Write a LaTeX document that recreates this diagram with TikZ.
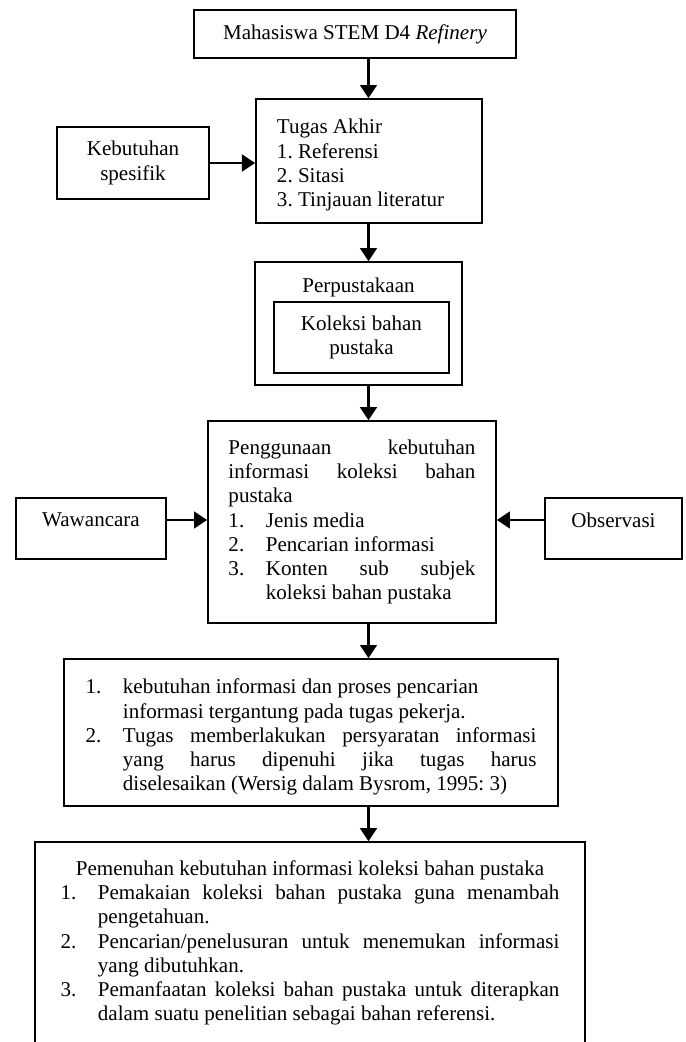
\documentclass[tikz,border=0pt]{standalone}
\usepackage{fontspec}
\setmainfont{Liberation Serif}
\usetikzlibrary{arrows.meta}
\hyphenpenalty=10000
\exhyphenpenalty=10000
\tolerance=10000
\frenchspacing
\newcommand{\butir}[2]{\par\hangindent=21.3pt\hangafter=1\noindent\makebox[21.3pt][l]{#1}#2\par}
\tikzset{
  teks/.style={font=\fontsize{12}{13.8}\selectfont},
  kotak/.style={draw, line width=0.9pt, inner sep=0pt, teks},
  panah/.style={line width=1.5pt, -{Triangle[length=7.5pt,width=9.5pt]}},
}

\begin{document}
\begin{tikzpicture}[x=0.57pt, y=-0.57pt]
			      \useasboundingbox (0,0) rectangle (685,1042);
			      \coordinate (spine) at (368.5,0);
			      % Top part: student, final project, needs
			      \node[kotak, minimum width=183.5pt, minimum height=27.4pt] (mhs) at (355,34) {Mahasiswa STEM D4 \textit{Refinery}};
			      \node[kotak, minimum width=128.8pt, minimum height=70.7pt, text width=104.9pt, inner xsep=12pt, align=flush left] (tugas) at (369,161) {\raisebox{0pt}[13pt]{Tugas Akhir}\\1. Referensi\\2. Sitasi\\3. Tinjauan literatur};
			      \node[kotak, minimum width=86.6pt, minimum height=41pt, align=center] (kebut) at (133,163) {Kebutuhan\\spesifik};

			      % Library with its collection inside
			      \node[kotak, minimum width=118pt, minimum height=70.1pt] (perp) at (358.5,323.5) {};
			      \node[teks] (perpjudul) at (358.5,287) {Perpustakaan};
			      \node[kotak, minimum width=99.75pt, minimum height=40.5pt, align=center] (kol) at (361.5,337.5) {Koleksi bahan\\pustaka};

			      % Use of the collection, with interview and observation
			      \node[kotak, minimum width=164.2pt, minimum height=115.1pt, text width=140.8pt, inner xsep=11.7pt, align=justify] (guna) at (352,522) {\noindent Penggunaan~kebutuhan\linebreak informasi~koleksi~bahan\linebreak pustaka\par
			        \butir{1.}{Jenis media}\butir{2.}{Pencarian informasi}\butir{3.}{Konten~sub~subjek\linebreak koleksi bahan pustaka}};
			      \node[kotak, minimum width=85.5pt, minimum height=34.8pt] (waw) at (91,528.5) {\raisebox{9.7pt}{Wawancara}};
			      \node[kotak, minimum width=78.1pt, minimum height=34.8pt] (obs) at (613.5,528.5) {\raisebox{9.7pt}{Observasi}};

			      % Bottom part
			      \node[kotak, minimum width=281.6pt, minimum height=83.8pt, text width=257pt, inner xsep=12.3pt, align=justify] (syarat) at (311,732.5) {%
			        \butir{1.}{kebutuhan informasi dan proses pencarian\newline informasi tergantung pada tugas pekerja.}%
			        \butir{2.}{Tugas~memberlakukan~persyaratan~informasi\linebreak yang~harus~dipenuhi~jika~tugas~harus\linebreak diselesaikan~(Wersig~dalam~Bysrom,~1995:~3)}};
			      \node[kotak, minimum width=313.5pt, minimum height=115.1pt, text width=284.4pt, inner xsep=12.5pt, align=justify] (penuhi) at (310,943) {%
			        \centerline{Pemenuhan kebutuhan informasi koleksi bahan pustaka}%
			        \butir{1.}{Pemakaian~koleksi~bahan~pustaka~guna~menambah\linebreak pengetahuan.}%
			        \butir{2.}{Pencarian/penelusuran~untuk~menemukan~informasi\linebreak yang dibutuhkan.}%
			        \butir{3.}{Pemanfaatan~koleksi~bahan~pustaka~untuk~diterapkan\linebreak dalam suatu penelitian sebagai bahan referensi.}};

			      \draw[panah] (mhs.south -| spine) -- (tugas.north -| spine);
			      \draw[panah] (kebut.east) -- (kebut.east -| tugas.west);
			      \draw[panah] (tugas.south -| spine) -- (perp.north -| spine);
			      \draw[panah] (perp.south -| spine) -- (guna.north -| spine);
			      \draw[panah] ([yshift=4.85pt]waw.east) -- ([yshift=4.85pt]waw.east -| guna.west);
			      \draw[panah] ([yshift=4.85pt]obs.west) -- ([yshift=4.85pt]obs.west -| guna.east);
			      \draw[panah] (guna.south -| spine) -- (syarat.north -| spine);
			      \draw[panah] (syarat.south -| spine) -- (penuhi.north -| spine);
		      \end{tikzpicture}
\end{document}
